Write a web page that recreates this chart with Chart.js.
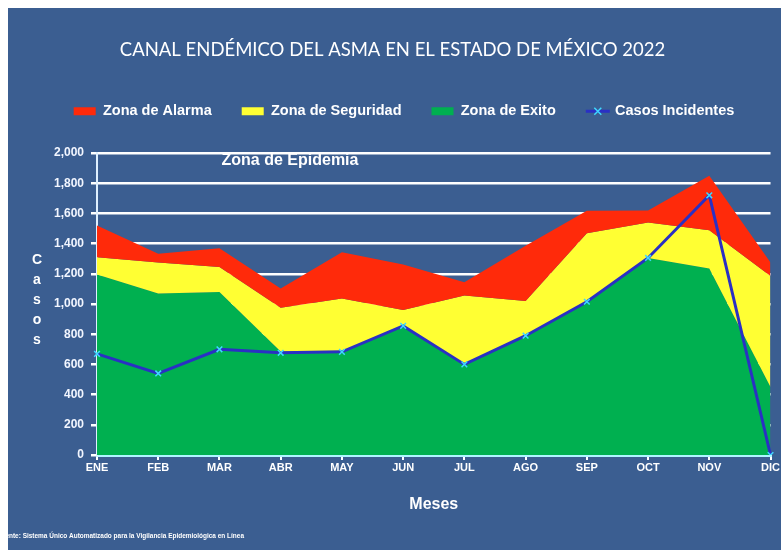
<!DOCTYPE html>
<html lang="es">
<head>
<meta charset="utf-8">
<title>Canal endémico del asma</title>
<script src="https://cdn.jsdelivr.net/npm/chart.js@4.4.1/dist/chart.umd.min.js"></script>
<style>
  html, body { margin: 0; padding: 0; background: #fff; }
  #panel {
    position: absolute; left: 8px; top: 8px;
    width: 773px; height: 542px;
    background: #3b5e91; overflow: hidden;
  }
</style>
</head>
<body>
<div id="panel"><canvas id="chart" width="773" height="542"></canvas></div>
<script>
const meses = ['ENE', 'FEB', 'MAR', 'ABR', 'MAY', 'JUN', 'JUL', 'AGO', 'SEP', 'OCT', 'NOV', 'DIC'];

// upper limit of each zone (cases)
const zonaExito     = [1195, 1070, 1080, 685, 685, 860, 600, 790, 1015, 1305, 1235, 450];
const zonaSeguridad = [1310, 1275, 1245, 975, 1036, 960, 1056, 1020, 1468, 1540, 1488, 1185];
const zonaAlarma    = [1520, 1333, 1370, 1102, 1342, 1262, 1144, 1385, 1618, 1620, 1850, 1275];
const casosIncidentes = [670, 540, 700, 677, 683, 855, 600, 790, 1015, 1305, 1720, 0];

const yTicks = [0, 200, 400, 600, 800, 1000, 1200, 1400, 1600, 1800, 2000];

const BOLD = "'Liberation Sans', Arial, sans-serif";
const titulo = 'CANAL ENDÉMICO DEL ASMA EN EL ESTADO DE MÉXICO 2022';
const fuente = 'Fuente: Sistema Único Automatizado para la Vigilancia Epidemiológica en Línea';
const legendOrder = ['Zona de Alarma', 'Zona de Seguridad', 'Zona de Exito', 'Casos Incidentes'];

// title, side texts, footer and the legend marker of the line series
const extras = {
  id: 'extras',
  afterDraw(chart) {
    const ctx = chart.ctx;
    const area = chart.chartArea;
    ctx.save();
    ctx.fillStyle = '#ffffff';
    ctx.textAlign = 'center';
    ctx.textBaseline = 'middle';

    ctx.font = '18.5px Lato, sans-serif';
    ctx.fillText(titulo, 384.5, 42);

    ctx.font = 'bold 16px ' + BOLD;
    ctx.fillText('Zona de Epidemia', 282, area.top + 8);

    // vertical "Casos"
    ctx.font = 'bold 14px ' + BOLD;
    'Casos'.split('').forEach((ch, i) => ctx.fillText(ch, 29, 252 + i * 20));

    // footer (left part cut by the panel edge)
    ctx.font = 'bold 7px ' + BOLD;
    ctx.textAlign = 'left';
    const sx = 235 / ctx.measureText(fuente.slice(3)).width;
    ctx.translate(-sx * ctx.measureText('Fue').width + 1, 528);
    ctx.scale(sx, 1);
    ctx.fillText(fuente, 0, 0);
    ctx.restore();

    // casos legend: line with x marker
    const boxes = chart.legend.legendHitBoxes;
    const i = chart.legend.legendItems.findIndex(it => it.text === 'Casos Incidentes');
    if (i >= 0 && boxes[i]) {
      const b = boxes[i];
      const cy = b.top + b.height / 2;
      ctx.save();
      ctx.strokeStyle = '#2a30c4';
      ctx.lineWidth = 3;
      ctx.beginPath();
      ctx.moveTo(b.left, cy);
      ctx.lineTo(b.left + 24, cy);
      ctx.stroke();
      ctx.strokeStyle = '#3fd8ff';
      ctx.lineWidth = 1.5;
      const cx = b.left + 12;
      ctx.beginPath();
      ctx.moveTo(cx - 3.5, cy - 3.5); ctx.lineTo(cx + 3.5, cy + 3.5);
      ctx.moveTo(cx + 3.5, cy - 3.5); ctx.lineTo(cx - 3.5, cy + 3.5);
      ctx.stroke();
      ctx.restore();
    }
  }
};

new Chart(document.getElementById('chart'), {
  type: 'line',
  data: {
    labels: meses,
    datasets: [
      {
        label: 'Casos Incidentes',
        data: casosIncidentes,
        borderColor: '#2a30c4',
        borderWidth: 3,
        pointStyle: 'crossRot',
        pointRadius: 4,
        pointBorderColor: '#3fd8ff',
        pointBorderWidth: 1.5,
        fill: false,
        tension: 0
      },
      {
        label: 'Zona de Alarma',
        data: zonaAlarma,
        backgroundColor: '#ff2a0a',
        borderWidth: 0,
        pointRadius: 0,
        fill: '+1'
      },
      {
        label: 'Zona de Seguridad',
        data: zonaSeguridad,
        backgroundColor: '#ffff33',
        borderWidth: 0,
        pointRadius: 0,
        fill: '+1'
      },
      {
        label: 'Zona de Exito',
        data: zonaExito,
        backgroundColor: '#00b050',
        borderWidth: 0,
        pointRadius: 0,
        fill: 'origin'
      }
    ]
  },
  options: {
    responsive: false,
    animation: false,
    layout: { padding: { left: 29, right: 10, top: 66, bottom: 36 } },
    plugins: {
      title: { display: false },
      // empty spacer between legend and plot
      subtitle: {
        display: true,
        text: '',
        weight: 500,
        font: { size: 1 },
        padding: { top: 23.3, bottom: 0 }
      },
      legend: {
        position: 'top',
        labels: {
          color: '#ffffff',
          font: { family: BOLD, size: 14.5, weight: 'bold' },
          boxWidth: 22,
          boxHeight: 8,
          padding: 30,
          sort: (a, b) => legendOrder.indexOf(a.text) - legendOrder.indexOf(b.text),
          generateLabels(chart) {
            return chart.data.datasets.map((ds, i) => ({
              text: ds.label,
              fillStyle: ds.label === 'Casos Incidentes' ? 'rgba(0,0,0,0)' : ds.backgroundColor,
              strokeStyle: 'rgba(0,0,0,0)',
              lineWidth: 0,
              fontColor: '#ffffff',
              datasetIndex: i,
              hidden: false
            }));
          }
        }
      },
      tooltip: { enabled: false }
    },
    scales: {
      x: {
        offset: false,
        afterFit(scale) { scale.height = 59; },
        grid: { drawOnChartArea: false, tickColor: '#ffffff', tickLength: 5, lineWidth: 2 },
        border: { color: '#aef6ff', width: 3 },
        ticks: {
          color: '#ffffff', padding: 1, maxRotation: 0, autoSkip: false,
          font: { family: BOLD, size: 11, weight: 'bold' }
        },
        title: {
          display: true, text: 'Meses', color: '#ffffff',
          font: { family: BOLD, size: 16, weight: 'bold' },
          padding: 0
        }
      },
      y: {
        min: yTicks[0],
        max: yTicks[yTicks.length - 1],
        afterFit(scale) { scale.width = 60; },
        afterBuildTicks(scale) { scale.ticks = yTicks.map(v => ({ value: v })); },
        grid: { color: '#ffffff', lineWidth: 2.5, tickColor: '#ffffff', tickLength: 6 },
        border: { color: '#dff0ff', width: 2 },
        ticks: {
          color: '#f2f6ff', padding: 7,
          font: { family: BOLD, size: 12, weight: 'bold' },
          callback: v => v.toLocaleString('en-US')
        }
      }
    }
  },
  plugins: [extras]
});
</script>
</body>
</html>
